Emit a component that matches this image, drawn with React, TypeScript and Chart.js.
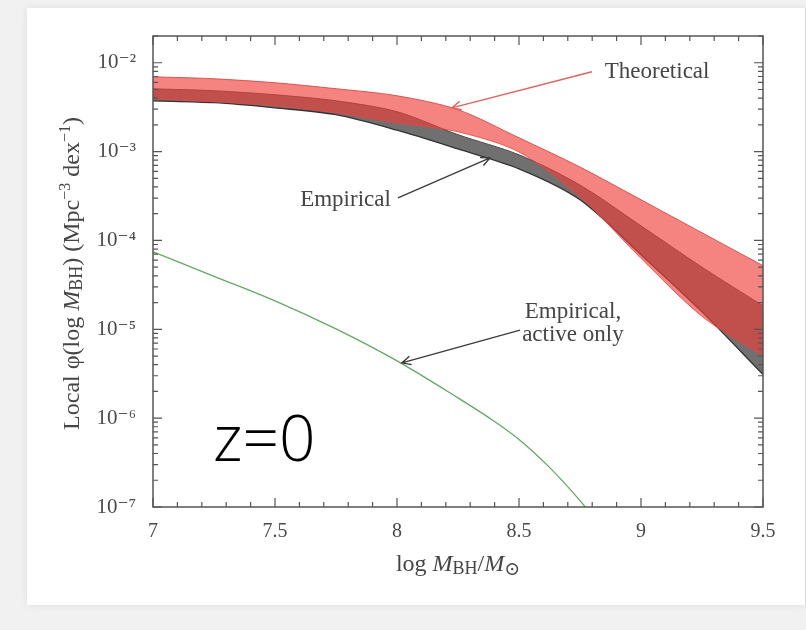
import React, { useEffect, useRef } from "react";
import { Chart, registerables } from "chart.js";

Chart.register(...registerables);

// ---- data ----
const massGrid = [7, 7.25, 7.5, 7.75, 8, 8.25, 8.5, 8.75, 9, 9.25, 9.5];
const theoreticalUpper = [6.95e-3, 6.6e-3, 5.95e-3, 5.1e-3, 4.25e-3, 2.96e-3, 1.43e-3, 6.7e-4, 2.87e-4, 1.22e-4, 5.2e-5];
const theoreticalLower = [3.93e-3, 3.64e-3, 3.28e-3, 2.74e-3, 2.11e-3, 1.67e-3, 9.9e-4, 3.1e-4, 6.3e-5, 1.4e-5, 5.0e-6];
const empiricalUpper = [5.09e-3, 4.84e-3, 4.36e-3, 3.73e-3, 2.81e-3, 1.55e-3, 9.2e-4, 4.2e-4, 1.46e-4, 5.0e-5, 1.84e-5];
const empiricalLower = [3.73e-3, 3.55e-3, 3.11e-3, 2.6e-3, 1.74e-3, 1.07e-3, 6.4e-4, 2.87e-4, 6.9e-5, 1.57e-5, 3.1e-6];
const activeMass = [7, 7.25, 7.5, 7.75, 8, 8.25, 8.375, 8.5, 8.625, 8.75, 8.8];
const activeOnly = [7.45e-5, 3.95e-5, 2.09e-5, 1.01e-5, 4.41e-6, 1.69e-6, 1.02e-6, 5.76e-7, 2.79e-7, 1.18e-7, 8.0e-8];

const xTickValues = [7, 7.5, 8, 8.5, 9, 9.5];
const xTickLabels = ["7", "7.5", "8", "8.5", "9", "9.5"];
const yTickValues = [1e-7, 1e-6, 1e-5, 1e-4, 1e-3, 1e-2];
const yTickLabels = ["10⁻⁷", "10⁻⁶", "10⁻⁵", "10⁻⁴", "10⁻³", "10⁻²"];

const X_MIN = 7;
const X_MAX = 9.5;
const Y_MIN = 1e-7;
const Y_MAX = 2e-2;

// annotation texts, anchored (center, baseline) in data coordinates
const noteTexts = [
  { text: "Theoretical", x: 9.066, y: 6.78e-3 },
  { text: "Empirical", x: 7.789, y: 2.45e-4 },
  { text: "Empirical,", x: 8.721, y: 1.34e-5 },
  { text: "active only", x: 8.721, y: 7.4e-6 },
];
// arrows: from -> tip, in data coordinates
const noteArrows = [
  { x1: 8.799, y1: 7.92e-3, x2: 8.225, y2: 3.11e-3, color: "#e2625c" },
  { x1: 8.004, y1: 3.02e-4, x2: 8.381, y2: 8.5e-4, color: "#3c3c3c" },
  { x1: 8.504, y1: 9.8e-6, x2: 8.02, y2: 4.19e-6, color: "#3c3c3c" },
];
const panelLabel = { text: "z=0", x: 7.246, y: 3.3e-7 };

const SERIF = "'Liberation Serif', 'DejaVu Serif', serif";

type Seg = { t: string; s: number; it?: boolean; dy?: number };

function drawRich(ctx: CanvasRenderingContext2D, segs: Seg[], cx: number, cy: number) {
  let total = 0;
  const widths = segs.map((g) => {
    ctx.font = `${g.it ? "italic " : ""}${g.s}px ${SERIF}`;
    const w = ctx.measureText(g.t).width;
    total += w;
    return w;
  });
  let x = cx - total / 2;
  segs.forEach((g, i) => {
    ctx.font = `${g.it ? "italic " : ""}${g.s}px ${SERIF}`;
    ctx.fillText(g.t, x, cy + (g.dy || 0));
    x += widths[i];
  });
}

function toPts(xs: number[], ys: number[]) {
  return xs.map((x, i) => ({ x, y: ys[i] }));
}

const framePlugin = {
  id: "frameTicksNotes",
  afterDatasetsDraw(chart: any) {
    const { ctx, chartArea: a, scales } = chart;
    const xs = scales.x;
    const ys = scales.y;
    ctx.save();
    // frame
    ctx.strokeStyle = "#555";
    ctx.lineWidth = 1.5;
    ctx.strokeRect(a.left, a.top, a.right - a.left, a.bottom - a.top);
    // ticks
    ctx.lineWidth = 1.2;
    ctx.beginPath();
    for (let k = 0; k <= 25; k++) {
      const v = X_MIN + k * 0.1;
      const px = xs.getPixelForValue(v);
      const len = k % 5 === 0 ? 9 : 5;
      ctx.moveTo(px, a.bottom);
      ctx.lineTo(px, a.bottom - len);
      ctx.moveTo(px, a.top);
      ctx.lineTo(px, a.top + len);
    }
    for (let e = -7; e <= -2; e++) {
      for (let m = 1; m <= 9; m++) {
        const v = m * Math.pow(10, e);
        if (v > Y_MAX * 1.0001) continue;
        const py = ys.getPixelForValue(v);
        const len = m === 1 ? 9 : 5;
        ctx.moveTo(a.left, py);
        ctx.lineTo(a.left + len, py);
        ctx.moveTo(a.right, py);
        ctx.lineTo(a.right - len, py);
      }
    }
    ctx.stroke();

    // arrows
    noteArrows.forEach((ar) => {
      const x1 = xs.getPixelForValue(ar.x1);
      const y1 = ys.getPixelForValue(ar.y1);
      const x2 = xs.getPixelForValue(ar.x2);
      const y2 = ys.getPixelForValue(ar.y2);
      const ang = Math.atan2(y2 - y1, x2 - x1);
      ctx.strokeStyle = ar.color;
      ctx.lineWidth = 1.4;
      ctx.beginPath();
      ctx.moveTo(x1, y1);
      ctx.lineTo(x2, y2);
      const hl = 10;
      const spread = 0.45;
      ctx.moveTo(x2 - hl * Math.cos(ang - spread), y2 - hl * Math.sin(ang - spread));
      ctx.lineTo(x2, y2);
      ctx.lineTo(x2 - hl * Math.cos(ang + spread), y2 - hl * Math.sin(ang + spread));
      ctx.stroke();
    });

    // annotation texts
    ctx.fillStyle = "#454545";
    ctx.textAlign = "center";
    ctx.textBaseline = "alphabetic";
    ctx.font = `23px ${SERIF}`;
    noteTexts.forEach((n) => {
      ctx.fillText(n.text, xs.getPixelForValue(n.x), ys.getPixelForValue(n.y));
    });

    // panel label
    ctx.fillStyle = "#000";
    ctx.textAlign = "left";
    ctx.font = `300 64px 'Open Sans', 'Noto Sans', sans-serif`;
    ctx.fillText(panelLabel.text, xs.getPixelForValue(panelLabel.x), ys.getPixelForValue(panelLabel.y));

    // axis titles
    ctx.fillStyle = "#454545";
    ctx.textAlign = "left";
    drawRich(
      ctx,
      [
        { t: "log ", s: 24 },
        { t: "M", s: 24, it: true },
        { t: "BH", s: 18, dy: 3 },
        { t: "/", s: 24 },
        { t: "M", s: 24, it: true },
        { t: "⊙", s: 19, dy: 4 },
      ],
      (a.left + a.right) / 2,
      a.bottom + 64
    );
    ctx.save();
    ctx.translate(a.left - 74, (a.top + a.bottom) / 2 + 2);
    ctx.rotate(-Math.PI / 2);
    drawRich(
      ctx,
      [
        { t: "Local φ(log ", s: 24 },
        { t: "M", s: 24, it: true },
        { t: "BH", s: 18, dy: 3 },
        { t: ") (Mpc", s: 24 },
        { t: "−3", s: 16, dy: -9 },
        { t: " dex", s: 24 },
        { t: "−1", s: 16, dy: -9 },
        { t: ")", s: 24 },
      ],
      0,
      0
    );
    ctx.restore();
    ctx.restore();
  },
};

export default function App() {
  const ref = useRef<HTMLCanvasElement>(null);
  useEffect(() => {
    if (!ref.current) return;
    const common = { pointRadius: 0, tension: 0.3 };
    const chart = new Chart(ref.current, {
      type: "line",
      data: {
        datasets: [
          {
            ...common,
            label: "Theoretical lower",
            data: toPts(massGrid, theoreticalLower),
            borderColor: "rgba(226,72,66,0.85)",
            borderWidth: 1,
            fill: false,
            order: 0,
          },
          {
            ...common,
            label: "Theoretical upper",
            data: toPts(massGrid, theoreticalUpper),
            borderColor: "rgba(220,70,64,0.9)",
            borderWidth: 1,
            fill: { target: 0 },
            backgroundColor: "rgba(240,62,56,0.64)",
            order: 0,
          },
          {
            ...common,
            label: "Empirical lower",
            data: toPts(massGrid, empiricalLower),
            borderColor: "#333",
            borderWidth: 1.3,
            fill: false,
            order: 1,
          },
          {
            ...common,
            label: "Empirical upper",
            data: toPts(massGrid, empiricalUpper),
            borderColor: "#4a4a4a",
            borderWidth: 1,
            fill: { target: 2 },
            backgroundColor: "rgb(112,112,112)",
            order: 1,
          },
          {
            pointRadius: 0,
            cubicInterpolationMode: "monotone",
            label: "Empirical, active only",
            data: toPts(activeMass, activeOnly),
            borderColor: "#64a764",
            borderWidth: 1.3,
            fill: false,
            order: 2,
          },
        ],
      },
      options: {
        animation: false,
        responsive: false,
        layout: { padding: { top: 36, right: 43, left: 0, bottom: 0 } },
        plugins: { legend: { display: false }, tooltip: { enabled: false } },
        scales: {
          x: {
            type: "linear",
            min: X_MIN,
            max: X_MAX,
            grid: { display: false },
            border: { display: false },
            afterBuildTicks: (s: any) => {
              s.ticks = xTickValues.map((v) => ({ value: v }));
            },
            afterFit: (s: any) => {
              s.height = 123;
            },
            ticks: {
              callback: (_v: any, i: number) => xTickLabels[i],
              font: { family: SERIF, size: 20 },
              color: "#4a4a4a",
              padding: 5,
              maxRotation: 0,
              autoSkip: false,
            },
          },
          y: {
            type: "logarithmic",
            min: Y_MIN,
            max: Y_MAX,
            grid: { display: false },
            border: { display: false },
            afterBuildTicks: (s: any) => {
              s.ticks = yTickValues.map((v) => ({ value: v }));
            },
            afterFit: (s: any) => {
              s.width = 153;
            },
            ticks: {
              callback: (_v: any, i: number) => yTickLabels[i],
              font: { family: SERIF, size: 21 },
              color: "#4a4a4a",
              padding: 9,
              autoSkip: false,
            },
          },
        },
      },
      plugins: [framePlugin],
    } as any);
    return () => chart.destroy();
  }, []);

  return (
    <div
      style={{
        position: "fixed",
        left: 0,
        top: 0,
        width: 806,
        height: 630,
        background: "#f1f1f1",
        overflow: "hidden",
      }}
    >
      <div
        style={{
          position: "absolute",
          left: 27,
          top: 8,
          width: 778,
          height: 597,
          background: "#fff",
          boxShadow: "0 0 8px rgba(0,0,0,0.08)",
          borderRight: "1px solid #d8d8d8",
        }}
      />
      <canvas ref={ref} width={806} height={630} style={{ position: "absolute", left: 0, top: 0 }} />
    </div>
  );
}
